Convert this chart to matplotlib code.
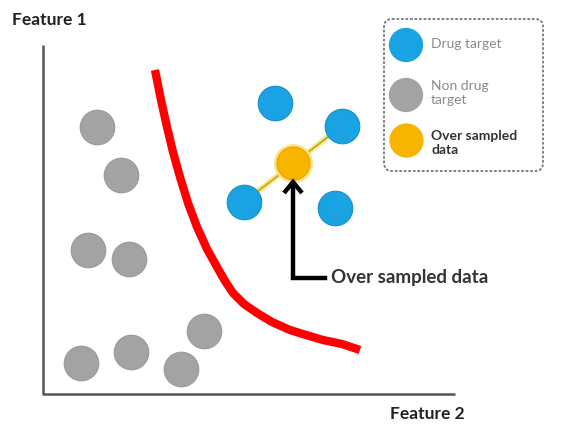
import matplotlib.pyplot as plt
from matplotlib.patches import FancyBboxPatch

plt.rcParams['font.family'] = ['Lato', 'DejaVu Sans']

# point positions (pixels in the source picture: x right, y down)
non_drug_x = [97, 121, 88, 129, 204, 131, 81, 181]
non_drug_y = [127, 175, 250, 259, 331, 352, 363, 369]
drug_x = [275, 342, 244, 335]
drug_y = [103, 126, 202, 208]
over_x = [293]
over_y = [163]

# decision boundary
curve_x = [155, 161, 167, 173, 180, 188, 197, 207, 217, 225, 233, 244, 257, 272, 290, 306, 323, 342, 360]
curve_y = [70, 100, 127, 152, 177, 203, 227, 249, 267, 281, 293, 304, 313, 322, 330, 335, 340, 344, 350]

blue = '#1AA3E3'
gray = '#A3A3A3'
orange = '#F7B500'

fig = plt.figure(figsize=(5.65, 4.26), dpi=100)
ax = fig.add_axes([0, 0, 1, 1])
ax.set_xlim(0, 565)
ax.set_ylim(426, 0)
ax.axis('off')

# axes lines
ax.plot([43, 43, 455], [45, 394, 394], color='#555555', lw=1.8, solid_capstyle='butt')
ax.text(12, 20, 'Feature 1', fontsize=12.5, fontweight='bold', color='#222222', va='center')
ax.text(390, 414, 'Feature 2', fontsize=12.5, fontweight='bold', color='#222222', va='center')

ax.plot(curve_x, curve_y, color='#FF0000', lw=6, solid_capstyle='butt', solid_joinstyle='round')

# link between the neighbours used for oversampling
ax.plot([drug_x[2], drug_x[1]], [drug_y[2], drug_y[1]], color='#F3E88A', lw=4, zorder=2)
ax.plot([drug_x[2], drug_x[1]], [drug_y[2], drug_y[1]], color='#C9A227', lw=1.2, zorder=2)

ax.scatter(non_drug_x, non_drug_y, s=620, color=gray, edgecolor='#999999', lw=0.8, zorder=3)
ax.scatter(drug_x, drug_y, s=620, color=blue, edgecolor='#1590C8', lw=0.8, zorder=3)
ax.scatter(over_x, over_y, s=780, color='#FBE27A', lw=0, zorder=3)
ax.scatter(over_x, over_y, s=560, color=orange, edgecolor='#E5A400', lw=0.8, zorder=4)

# arrow pointing at the synthetic sample
ax.plot([325, 293, 293], [278, 278, 184], color='black', lw=3.2, zorder=5,
        solid_joinstyle='miter')
ax.plot([284, 293, 302], [193, 182, 193], color='black', lw=3.2, zorder=5,
        solid_joinstyle='miter', solid_capstyle='butt')
ax.text(331, 277, 'Over sampled data', fontsize=13.5, fontweight='bold', color='#333333', va='center')

# legend
box = FancyBboxPatch((384, 19), 159, 152, boxstyle='round,pad=0,rounding_size=8',
                     fc='white', ec='#777777', lw=1.3, ls=(0, (1.5, 1)))
ax.add_patch(box)
ax.scatter([406, 406], [45, 95], s=560, color=[blue, gray], zorder=3)
ax.scatter([406], [140], s=560, color=orange, zorder=3)
ax.text(431, 44, 'Drug target', fontsize=10, color='#8A8A8A', va='center')
ax.text(431, 93, 'Non drug\ntarget', fontsize=10, color='#8A8A8A', va='center', linespacing=1.1)
ax.text(431, 143, 'Over sampled\ndata', fontsize=10, fontweight='bold', color='#333333',
        va='center', linespacing=1.1)

fig.savefig('out.png', dpi=100)
